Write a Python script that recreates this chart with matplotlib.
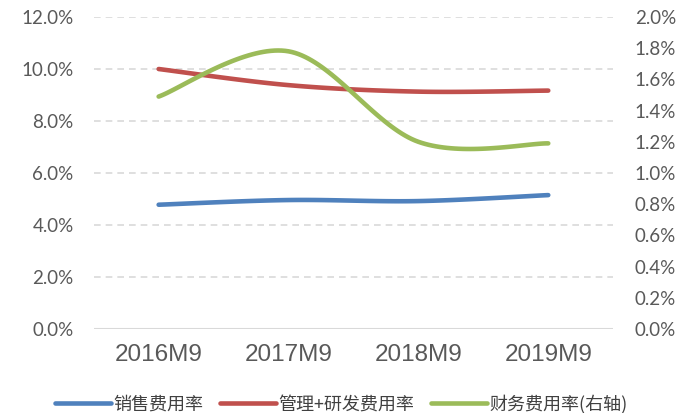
import matplotlib
matplotlib.use("Agg")
import matplotlib.pyplot as plt
import numpy as np
from matplotlib.ticker import FuncFormatter

categories = ["2016M9", "2017M9", "2018M9", "2019M9"]
sales_rate = [4.78, 4.96, 4.92, 5.15]          # 销售费用率 (%)
admin_rd_rate = [10.0, 9.38, 9.13, 9.17]        # 管理+研发费用率 (%)
finance_rate = [1.49, 1.78, 1.20, 1.19]         # 财务费用率 (%), right axis
names = ["销售费用率", "管理+研发费用率", "财务费用率(右轴)"]
colors = ["#4F81BD", "#C0504D", "#9BBB59"]


def smooth(xs, ys, n=40):
    # Excel-style smoothed line: cubic bezier, control points at 1/6 of neighbour diff
    xs = np.asarray(xs, float)
    ys = np.asarray(ys, float)
    px = np.concatenate([[xs[0]], xs, [xs[-1]]])
    py = np.concatenate([[ys[0]], ys, [ys[-1]]])
    outx, outy = [], []
    t = np.linspace(0, 1, n)
    for i in range(1, len(px) - 2):
        x0, y0 = px[i], py[i]
        x3, y3 = px[i + 1], py[i + 1]
        x1 = x0 + (px[i + 1] - px[i - 1]) / 6
        y1 = y0 + (py[i + 1] - py[i - 1]) / 6
        x2 = x3 - (px[i + 2] - px[i]) / 6
        y2 = y3 - (py[i + 2] - py[i]) / 6
        bx = (1-t)**3*x0 + 3*(1-t)**2*t*x1 + 3*(1-t)*t**2*x2 + t**3*x3
        by = (1-t)**3*y0 + 3*(1-t)**2*t*y1 + 3*(1-t)*t**2*y2 + t**3*y3
        outx.extend(bx)
        outy.extend(by)
    return outx, outy


fig = plt.figure(figsize=(6.89, 4.13), dpi=100)
ax = fig.add_axes([0.136, 0.2034, 0.754, 0.7554])
ax2 = ax.twinx()

x = np.arange(len(categories))
lw = 3.3
lines = []
for vals, c, a in [(sales_rate, colors[0], ax), (admin_rd_rate, colors[1], ax), (finance_rate, colors[2], ax2)]:
    sx, sy = smooth(x, vals)
    l, = a.plot(sx, sy, color=c, lw=lw, solid_capstyle="round")
    lines.append(l)

ax.set_xlim(-0.5, 3.5)
ax.set_ylim(0, 12)
ax2.set_ylim(0, 2)
ax.set_yticks(np.arange(0, 12.1, 2))
ax2.set_yticks(np.arange(0, 2.01, 0.2))
ax.yaxis.set_major_formatter(FuncFormatter(lambda v, p: f"{v:.1f}%"))
ax2.yaxis.set_major_formatter(FuncFormatter(lambda v, p: f"{v:.1f}%"))
ax.set_xticks(x)
ax.set_xticklabels(categories, fontsize=17.5, color="#595959", family="Liberation Sans")

for yv in np.arange(2, 12.1, 2):
    ax.axhline(yv, color="#D9D9D9", lw=1.2, ls=(0, (4, 3)), zorder=0)
ax.axhline(0, color="#D9D9D9", lw=1.5, zorder=0)

for a in (ax, ax2):
    for s in a.spines.values():
        s.set_visible(False)
    a.tick_params(length=0)
for lab in ax.get_yticklabels() + ax2.get_yticklabels():
    lab.set_fontsize(13.5)
    lab.set_color("#595959")
    lab.set_family("Lato")
ax.tick_params(axis="y", pad=14.5)
ax2.tick_params(axis="y", pad=15.5)
ax.tick_params(axis="x", pad=10.5)

leg = fig.legend(lines, names, loc="center left", bbox_to_anchor=(0.08, 0.022), ncol=3,
                 frameon=False, borderpad=0, borderaxespad=0,
                 handlelength=3.1, handletextpad=0.15, columnspacing=0.9,
                 prop={"family": ["Noto Sans CJK SC", "DejaVu Sans"], "size": 13})
for t in leg.get_texts():
    t.set_color("#404040")

fig.savefig("out.png", dpi=100)
